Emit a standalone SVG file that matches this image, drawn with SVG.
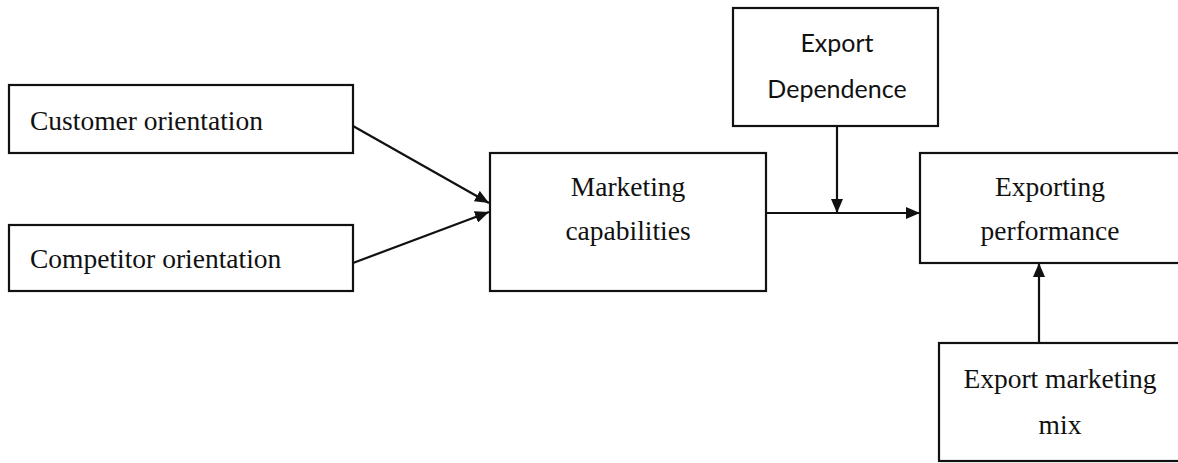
<svg xmlns="http://www.w3.org/2000/svg" width="1178" height="463" viewBox="0 0 1178 463">
<style>
.box{fill:#fff;stroke:#111;stroke-width:2.2}
.serif{font-family:'Liberation Serif','Times New Roman','DejaVu Serif',serif;font-size:27.5px;fill:#111}
.sans{font-family:Lato,'Open Sans','Liberation Sans',sans-serif;font-size:25px;fill:#111}
.c{text-anchor:middle}
.conn{stroke:#111;stroke-width:2.2;fill:none}
</style>
<defs>
<marker id="ah" viewBox="0 0 14 12" refX="14" refY="6" markerWidth="14" markerHeight="12" markerUnits="userSpaceOnUse" orient="auto">
<path d="M0,0 L14,6 L0,12 Z" fill="#111"/>
</marker>
</defs>
<rect width="1178" height="463" fill="#fff"/>
<g id="customer">
<rect class="box" x="9" y="85" width="344" height="68"/>
<text class="serif" x="30" y="130">Customer orientation</text>
</g>
<g id="competitor">
<rect class="box" x="9" y="225" width="344" height="66"/>
<text class="serif" x="30" y="268">Competitor orientation</text>
</g>
<g id="marketing">
<rect class="box" x="490" y="153" width="276" height="138"/>
<text class="serif c" x="628" y="196">Marketing</text>
<text class="serif c" x="628" y="240">capabilities</text>
</g>
<g id="dependence">
<rect class="box" x="733" y="8" width="205" height="118"/>
<text class="sans c" x="837" y="52">Export</text>
<text class="sans c" x="837" y="98">Dependence</text>
</g>
<g id="performance">
<rect class="box" x="920" y="153" width="270" height="110"/>
<text class="serif c" x="1050" y="196">Exporting</text>
<text class="serif c" x="1050" y="240">performance</text>
</g>
<g id="mix">
<rect class="box" x="939" y="343" width="250" height="118"/>
<text class="serif c" x="1060" y="388">Export marketing</text>
<text class="serif c" x="1060" y="434">mix</text>
</g>
<g id="connectors">
<line class="conn" x1="353" y1="126" x2="489" y2="203" marker-end="url(#ah)"/>
<line class="conn" x1="353" y1="263" x2="489" y2="212" marker-end="url(#ah)"/>
<line class="conn" x1="766" y1="213" x2="920" y2="213" marker-end="url(#ah)"/>
<line class="conn" x1="837" y1="126" x2="837" y2="213" marker-end="url(#ah)"/>
<line class="conn" x1="1039" y1="343" x2="1039" y2="263" marker-end="url(#ah)"/>
</g>
</svg>
